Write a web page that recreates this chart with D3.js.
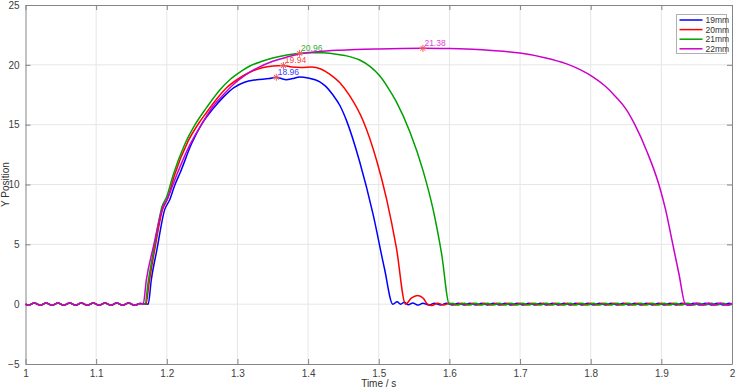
<!DOCTYPE html>
<html>
<head>
<meta charset="utf-8">
<style>
    body { margin: 0; background: #fff; }
    svg { display: block; font-family: "Liberation Sans", Arial, sans-serif; }
</style>
</head>
<body>
<script src="https://d3js.org/d3.v7.min.js"></script>
<script>
    // Series names and colours
    const seriesNames = ["19mm", "20mm", "21mm", "22mm"];
    const seriesColors = ["#0000ff", "#ff0000", "#00a000", "#cc00cc"];

    // Ticks
    const xTicks = [1, 1.1, 1.2, 1.3, 1.4, 1.5, 1.6, 1.7, 1.8, 1.9, 2];
    const yTicks = [-5, 0, 5, 10, 15, 20, 25];

    // Small ripple before the jump (all four curves sit on it)
    const preRise = [[1.000, 0], [1.004, -0.1], [1.0125, 0.1], [1.021, -0.1], [1.029, 0.1], [1.0375, -0.1],
        [1.046, 0.1], [1.054, -0.1], [1.0625, 0.1], [1.071, -0.1], [1.079, 0.1], [1.0875, -0.1],
        [1.096, 0.1], [1.104, -0.1], [1.1125, 0.1], [1.121, -0.1], [1.129, 0.1], [1.1375, -0.1],
        [1.146, 0.1], [1.154, -0.1], [1.1625, 0.05]];

    // 19mm
    const blue = [[1.1737, 0], [1.178, 2.0], [1.186, 4.55], [1.197, 7.9], [1.204, 8.7], [1.211, 9.9],
        [1.219, 11.0], [1.235, 13.4], [1.249, 15.0], [1.265, 16.3], [1.28, 17.3], [1.295, 18.1],
        [1.31, 18.55], [1.327, 18.75], [1.345, 18.85], [1.355, 18.96], [1.362, 18.85], [1.369, 18.75],
        [1.378, 18.85], [1.388, 18.98], [1.40, 18.9], [1.416, 18.6], [1.425, 18.2], [1.435, 17.5],
        [1.445, 16.6], [1.454, 15.4], [1.473, 11.9], [1.492, 7.5], [1.508, 3.0], [1.520, 0.0], [1.526, 0.2],
        [1.531, 0.0], [1.536, 0.15], [1.542, -0.05], [1.548, 0.1], [1.556, -0.08], [1.5625, 0.08],
        [1.571, -0.08], [1.579, 0.08], [1.5875, -0.08], [1.596, 0.08], [1.604, -0.08], [1.6125, 0.08],
        [1.621, -0.08], [1.629, 0.08], [1.6375, -0.08], [1.646, 0.08], [1.654, -0.08], [1.6625, 0.08],
        [1.671, -0.08], [1.679, 0.08], [1.6875, -0.08], [1.696, 0.08], [1.704, -0.08], [1.7125, 0.08],
        [1.721, -0.08], [1.729, 0.08], [1.7375, -0.08], [1.746, 0.08], [1.754, -0.08], [1.7625, 0.08],
        [1.771, -0.08], [1.779, 0.08], [1.7875, -0.08], [1.796, 0.08], [1.804, -0.08], [1.8125, 0.08],
        [1.821, -0.08], [1.829, 0.08], [1.8375, -0.08], [1.846, 0.08], [1.854, -0.08], [1.8625, 0.08],
        [1.871, -0.08], [1.879, 0.08], [1.8875, -0.08], [1.896, 0.08], [1.904, -0.08], [1.9125, 0.08],
        [1.921, -0.08], [1.929, 0.08], [1.9375, -0.08], [1.946, 0.08], [1.954, -0.08], [1.9625, 0.08],
        [1.971, -0.08], [1.979, 0.08], [1.9875, -0.08], [1.996, 0.08], [2.0, 0]];

    // 20mm
    const red = [[1.1705, 0], [1.175, 1.8], [1.183, 4.6], [1.194, 7.9], [1.201, 8.8], [1.211, 10.8],
        [1.23, 13.6], [1.245, 15.1], [1.256, 16.0], [1.27, 17.1], [1.285, 18.1], [1.303, 18.9],
        [1.318, 19.4], [1.335, 19.75], [1.35, 19.9], [1.365, 19.94], [1.377, 19.82], [1.39, 19.78],
        [1.405, 19.82], [1.418, 19.65], [1.431, 19.2], [1.445, 18.5], [1.459, 17.4], [1.478, 15.3],
        [1.497, 12.0], [1.511, 8.8], [1.525, 4.7], [1.538, 0.0], [1.546, 0.5], [1.555, 0.73],
        [1.563, 0.5], [1.569, 0], [1.575, -0.12],
        [1.5835, 0.08], [1.592, -0.08], [1.600, 0.08], [1.6085, -0.08], [1.617, 0.08], [1.625, -0.08],
        [1.6335, 0.08], [1.642, -0.08], [1.650, 0.08], [1.6585, -0.08], [1.667, 0.08], [1.675, -0.08],
        [1.6835, 0.08], [1.692, -0.08], [1.700, 0.08], [1.7085, -0.08], [1.717, 0.08], [1.725, -0.08],
        [1.7335, 0.08], [1.742, -0.08], [1.750, 0.08], [1.7585, -0.08], [1.767, 0.08], [1.775, -0.08],
        [1.7835, 0.08], [1.792, -0.08], [1.800, 0.08], [1.8085, -0.08], [1.817, 0.08], [1.825, -0.08],
        [1.8335, 0.08], [1.842, -0.08], [1.850, 0.08], [1.8585, -0.08], [1.867, 0.08], [1.875, -0.08],
        [1.8835, 0.08], [1.892, -0.08], [1.900, 0.08], [1.9085, -0.08], [1.917, 0.08], [1.925, -0.08],
        [1.9335, 0.08], [1.942, -0.08], [1.950, 0.08], [1.9585, -0.08], [1.967, 0.08], [1.975, -0.08],
        [1.9835, 0.08], [1.992, -0.08], [2.0, 0.05]];

    // 21mm
    const green = [[1.169, 0], [1.174, 2.0], [1.182, 4.7], [1.193, 8.1], [1.200, 9.0], [1.209, 10.8],
        [1.225, 13.3], [1.24, 15.0], [1.256, 16.4], [1.275, 17.9], [1.29, 18.8], [1.305, 19.45],
        [1.3175, 19.9], [1.335, 20.3], [1.35, 20.57], [1.37, 20.82], [1.388, 20.96], [1.405, 21.0],
        [1.42, 21.0], [1.435, 20.93], [1.452, 20.78], [1.473, 20.4], [1.488, 19.85], [1.501, 19.1],
        [1.513, 18.1], [1.525, 16.9], [1.544, 14.4], [1.563, 11.1], [1.577, 7.9], [1.589, 4.2], [1.600, 0.0],
        [1.604, 0.08], [1.6125, -0.08], [1.621, 0.08], [1.629, -0.08], [1.6375, 0.08], [1.646, -0.08],
        [1.654, 0.08], [1.6625, -0.08], [1.671, 0.08], [1.679, -0.08], [1.6875, 0.08], [1.696, -0.08],
        [1.704, 0.08], [1.7125, -0.08], [1.721, 0.08], [1.729, -0.08], [1.7375, 0.08], [1.746, -0.08],
        [1.754, 0.08], [1.7625, -0.08], [1.771, 0.08], [1.779, -0.08], [1.7875, 0.08], [1.796, -0.08],
        [1.804, 0.08], [1.8125, -0.08], [1.821, 0.08], [1.829, -0.08], [1.8375, 0.08], [1.846, -0.08],
        [1.854, 0.08], [1.8625, -0.08], [1.871, 0.08], [1.879, -0.08], [1.8875, 0.08], [1.896, -0.08],
        [1.904, 0.08], [1.9125, -0.08], [1.921, 0.08], [1.929, -0.08], [1.9375, 0.08], [1.946, -0.08],
        [1.954, 0.08], [1.9625, -0.08], [1.971, 0.08], [1.979, -0.08], [1.9875, 0.08], [1.996, -0.08],
        [2.0, 0]];

    // 22mm
    const magenta = [[1.1666, 0], [1.171, 2.0], [1.181, 4.8], [1.195, 8.2], [1.200, 8.7], [1.214, 10.8],
        [1.23, 13.0], [1.249, 15.0], [1.265, 16.5], [1.28, 17.5], [1.295, 18.4], [1.31, 19.1],
        [1.327, 19.7], [1.35, 20.3], [1.37, 20.65], [1.388, 20.9], [1.415, 21.1], [1.445, 21.22],
        [1.50, 21.33], [1.5625, 21.38], [1.60, 21.37], [1.633, 21.3], [1.66, 21.2], [1.70, 20.98],
        [1.735, 20.6], [1.765, 20.1], [1.785, 19.6], [1.803, 19.0], [1.82, 18.25], [1.836, 17.3],
        [1.85, 16.3], [1.8625, 15.0], [1.88, 12.7], [1.8965, 10.0], [1.906, 7.9], [1.9155, 5.2],
        [1.925, 2.5], [1.934, 0],
        [1.9415, -0.1], [1.950, 0.08], [1.9585, -0.08], [1.967, 0.08], [1.975, -0.08], [1.9835, 0.08],
        [1.992, -0.08], [2.0, 0.05]];

    // Peak markers: [t, y, label]
    const peaks = [[1.355, 18.96, "18.96"], [1.365, 19.94, "19.94"], [1.388, 20.96, "20.96"], [1.5625, 21.38, "21.38"]];
    const peakTextColors = ["#4040ff", "#ff4040", "#30b030", "#dd44dd"];

    const width = 737, height = 391;
    const plotLeft = 25.5, plotRight = 732, plotTop = 5, plotBottom = 364;

    const svg = d3.select("body").append("svg")
        .attr("width", width)
        .attr("height", height);

    const x = d3.scaleLinear().domain([1, 2]).range([plotLeft, plotRight]);
    const y = d3.scaleLinear().domain([-5, 25]).range([plotBottom, plotTop]);

    // grid
    svg.append("g").selectAll("line").data(xTicks.slice(1, -1)).join("line")
        .attr("x1", d => x(d)).attr("x2", d => x(d))
        .attr("y1", plotTop).attr("y2", plotBottom)
        .attr("stroke", "#e6e6e6").attr("stroke-width", 1);
    svg.append("g").selectAll("line").data(yTicks.slice(1, -1)).join("line")
        .attr("x1", plotLeft).attr("x2", plotRight)
        .attr("y1", d => y(d)).attr("y2", d => y(d))
        .attr("stroke", "#e6e6e6").attr("stroke-width", 1);

    // axes (box with inward ticks on all sides)
    const styleAxis = g => {
        g.select(".domain").attr("stroke", "#858585");
        g.selectAll(".tick line").attr("stroke", "#858585");
        g.selectAll(".tick text").attr("fill", "#404040").attr("font-size", 10);
    };
    svg.append("g").attr("transform", `translate(0,${plotBottom})`)
        .call(d3.axisBottom(x).tickValues(xTicks).tickFormat(d3.format("")).tickSizeInner(-5).tickSizeOuter(0).tickPadding(6))
        .call(styleAxis);
    svg.append("g").attr("transform", `translate(0,${plotTop})`)
        .call(d3.axisTop(x).tickValues(xTicks).tickFormat("").tickSizeInner(-5).tickSizeOuter(0))
        .call(styleAxis);
    svg.append("g").attr("transform", `translate(${plotLeft},0)`)
        .call(d3.axisLeft(y).tickValues(yTicks).tickSizeInner(-5).tickSizeOuter(0).tickPadding(6))
        .call(styleAxis);
    svg.append("g").attr("transform", `translate(${plotRight},0)`)
        .call(d3.axisRight(y).tickValues(yTicks).tickFormat("").tickSizeInner(-5).tickSizeOuter(0))
        .call(styleAxis);

    // curves
    const line = d3.line()
        .x(d => x(d[0]))
        .y(d => y(d[1]))
        .curve(d3.curveMonotoneX);

    const allSeries = [blue, red, green, magenta];
    allSeries.forEach((s, i) => {
        svg.append("path")
            .datum(preRise.concat(s))
            .attr("fill", "none")
            .attr("stroke", seriesColors[i])
            .attr("stroke-width", 1.5)
            .attr("stroke-linejoin", "round")
            .attr("d", line);
    });

    // peak stars + labels
    peaks.forEach((p, i) => {
        const cx = x(p[0]), cy = y(p[1]);
        const g = svg.append("g").attr("stroke", "#f05a5a").attr("stroke-width", 1);
        const r = 3.5;
        g.append("line").attr("x1", cx - r).attr("x2", cx + r).attr("y1", cy).attr("y2", cy);
        g.append("line").attr("x1", cx).attr("x2", cx).attr("y1", cy - r).attr("y2", cy + r);
        g.append("line").attr("x1", cx - r * 0.7).attr("x2", cx + r * 0.7).attr("y1", cy - r * 0.7).attr("y2", cy + r * 0.7);
        g.append("line").attr("x1", cx - r * 0.7).attr("x2", cx + r * 0.7).attr("y1", cy + r * 0.7).attr("y2", cy - r * 0.7);
        svg.append("text")
            .attr("x", cx + 1.5).attr("y", cy - 2.5)
            .attr("font-size", 8.5)
            .attr("fill", peakTextColors[i])
            .text(p[2]);
    });

    // axis labels
    svg.append("text")
        .attr("x", (plotLeft + plotRight) / 2).attr("y", 387)
        .attr("text-anchor", "middle")
        .attr("font-size", 10).attr("fill", "#333")
        .text("Time / s");
    svg.append("text")
        .attr("transform", `translate(9,${(plotTop + plotBottom) / 2}) rotate(-90)`)
        .attr("text-anchor", "middle")
        .attr("font-size", 10).attr("fill", "#333")
        .text("Y Position");

    // legend
    const legend = svg.append("g").attr("transform", "translate(676.5,14.5)");
    legend.append("rect")
        .attr("width", 50).attr("height", 39)
        .attr("fill", "#fff").attr("stroke", "#b0b0b0");
    seriesNames.forEach((name, i) => {
        const ly = 5.5 + i * 9.6;
        legend.append("line")
            .attr("x1", 3).attr("x2", 26).attr("y1", ly).attr("y2", ly)
            .attr("stroke", seriesColors[i]).attr("stroke-width", 1.5);
        legend.append("text")
            .attr("x", 29).attr("y", ly + 3)
            .attr("font-size", 8.5).attr("fill", "#333")
            .text(name);
    });
</script>
</body>
</html>
